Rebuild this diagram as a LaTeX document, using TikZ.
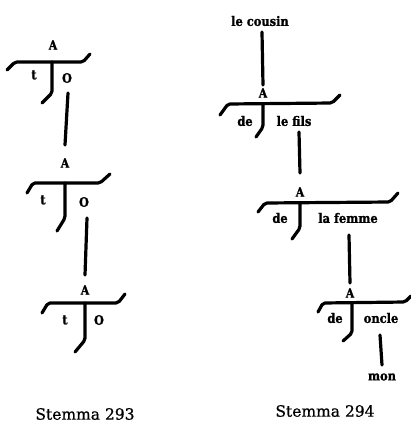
\documentclass[tikz,border=0pt]{standalone}
\usepackage{fontspec}
\setmainfont{DejaVu Serif}
\newfontfamily\labfont[FakeStretch=0.88,BoldFeatures={FakeBold=1.2}]{DejaVu Serif}
\newfontfamily\capfont[FakeBold=0.8]{DejaVu Serif}
\begin{document}
\begin{tikzpicture}[x=1pt,y=-1pt,
  stroke/.style={line width=3.2pt,line cap=round,line join=round,rounded corners=2pt},
  lab/.style={font=\labfont\fontsize{13}{14}\selectfont\bfseries,inner sep=0pt},
  alab/.style={font=\labfont\fontsize{12.5}{13}\selectfont\bfseries,inner sep=0pt},
  captext/.style={font=\capfont\fontsize{15.5}{16}\selectfont,inner sep=0pt}]
\useasboundingbox (0,0) rectangle (411,426);
% ---------- Stemma 293 ----------
% structure 1
\node[alab] (A1) at (53,45) {A};
\coordinate (b1l) at (7,70); \coordinate (b1a) at (15,62);
\coordinate (b1b) at (83,62); \coordinate (b1r) at (90,54);
\draw[stroke] (b1l) -- (b1a) -- (b1b) -- (b1r);
\coordinate (s1t) at (52,62); \coordinate (s1m) at (52,93); \coordinate (s1e) at (42,103);
\draw[stroke] (s1t) -- (s1m) -- (s1e);
\node[lab] (t1) at (34,75) {t};
\node[lab] (O1) at (67,78) {O};
% structure 2
\node[alab] (A2) at (65,163) {A};
\coordinate (b2l) at (27,193); \coordinate (b2a) at (33,183);
\coordinate (b2b) at (100,183); \coordinate (b2r) at (110,174);
\draw[stroke] (b2l) -- (b2a) -- (b2b) -- (b2r);
\coordinate (s2t) at (65,183); \coordinate (s2m) at (65,218); \coordinate (s2e) at (57,231);
\draw[stroke] (s2t) -- (s2m) -- (s2e);
\node[lab] (t2) at (43,200) {t};
\node[lab] (O2) at (84,202) {O};
% structure 3
\node[alab] (A3) at (85,290) {A};
\coordinate (b3l) at (42,313); \coordinate (b3a) at (48,303);
\coordinate (b3b) at (118,303); \coordinate (b3r) at (125,294);
\draw[stroke] (b3l) -- (b3a) -- (b3b) -- (b3r);
\coordinate (s3t) at (85,303); \coordinate (s3m) at (85,340); \coordinate (s3e) at (75,352);
\draw[stroke] (s3t) -- (s3m) -- (s3e);
\node[lab] (t3) at (65,320) {t};
\node[lab] (O3) at (99,320) {O};
% connectors
\draw[stroke] ([xshift=1pt,yshift=-15pt]O1.center) -- ([yshift=18pt]A2.center);
\draw[stroke] ([xshift=3pt,yshift=-16pt]O2.center) -- ([yshift=15pt]A3.center);
% ---------- Stemma 294 ----------
\node[lab] (cousin) at (260,21) {le cousin};
% structure a
\node[alab] (Aa) at (263,93) {A};
\coordinate (bal) at (220,115); \coordinate (baa) at (228,104);
\coordinate (bab) at (332,103); \coordinate (bar) at (340,95);
\draw[stroke] (bal) -- (baa) -- (bab) -- (bar);
\coordinate (sat) at (263,104); \coordinate (sam) at (263,127); \coordinate (sae) at (256,137);
\draw[stroke] (sat) -- (sam) -- (sae);
\node[lab] (dea) at (245,121) {de};
\node[lab] (fils) at (294,121) {le fils};
% structure b
\node[alab] (Ab) at (300,192) {A};
\coordinate (bbl) at (258,212); \coordinate (bba) at (265,203);
\coordinate (bbb) at (390,202); \coordinate (bbr) at (398,193);
\draw[stroke] (bbl) -- (bba) -- (bbb) -- (bbr);
\coordinate (sbt) at (300,203); \coordinate (sbm) at (300,228); \coordinate (sbe) at (292,239);
\draw[stroke] (sbt) -- (sbm) -- (sbe);
\node[lab] (deb) at (280,218) {de};
\node[lab] (femme) at (348,218) {la femme};
% structure c
\node[alab] (Ac) at (350,293) {A};
\coordinate (bcl) at (318,312); \coordinate (bca) at (323,303);
\coordinate (bcb) at (405,302); \coordinate (bcr) at (411,296);
\draw[stroke] (bcl) -- (bca) -- (bcb) -- (bcr);
\coordinate (sct) at (352,303); \coordinate (scm) at (352,333); \coordinate (sce) at (343,341);
\draw[stroke] (sct) -- (scm) -- (sce);
\node[lab] (dec) at (335,318) {de};
\node[lab] (oncle) at (381,318) {oncle};
\node[lab] (mon) at (382,377) {mon};
% connectors
\draw[stroke] ([xshift=2pt,yshift=-11pt]cousin.center) -- ([yshift=8pt]Aa.center);
\draw[stroke] ([xshift=5pt,yshift=-11pt]fils.center) -- ([yshift=19pt]Ab.center);
\draw[stroke] ([xshift=1pt,yshift=-17pt]femme.center) -- ([yshift=10pt]Ac.center);
\draw[stroke] ([xshift=-1pt,yshift=-17pt]oncle.center) -- ([yshift=12pt]mon.center);
% captions
\node[captext] (c293) at (85,414) {Stemma 293};
\node[captext] (c294) at (325,411) {Stemma 294};
\end{tikzpicture}
\end{document}
